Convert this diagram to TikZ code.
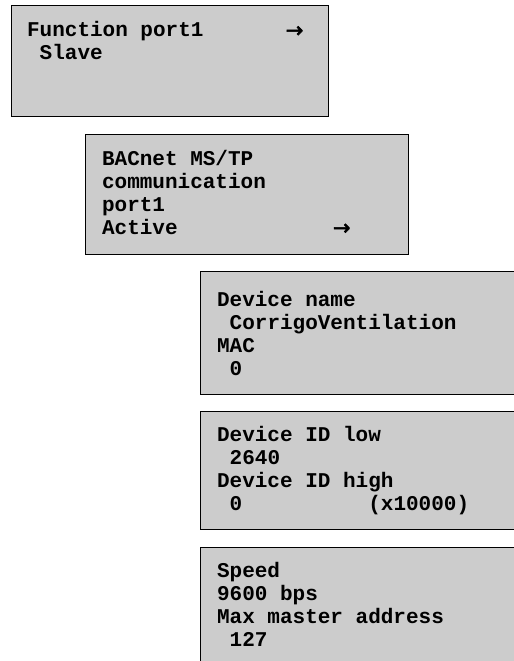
\documentclass[tikz,border=0pt]{standalone}
\usepackage{fontspec}
\setmonofont{Liberation Mono}
\newfontfamily\arrowfont[FakeBold=2.5]{DejaVu Sans}
\usetikzlibrary{positioning}
\definecolor{screen}{RGB}{204,204,204}
\tikzset{display/.style={fill=screen, draw=black, line width=0.5pt},
  lcdtext/.style={anchor=base west, inner sep=0pt, align=left,
    font=\ttfamily\bfseries\fontsize{10.5}{11.55}\selectfont},
  nextarrow/.style={inner sep=0pt, font=\arrowfont\fontsize{10.5}{10.5}\selectfont}}

\begin{document}
\begin{tikzpicture}[x=0.5pt, y=-0.5pt, line cap=round]
                \useasboundingbox (0,0) rectangle (514,661);
                \filldraw [display] (11.7,5) rectangle (328.3,116.7);
                \filldraw [display] (86,134.3) rectangle (408.3,254);
                \filldraw [display] (200.7,271) rectangle (530,394);
                \filldraw [display] (200.7,411) rectangle (530,529.7);
                \filldraw [display] (200.7,547) rectangle (530,680);

                % base anchor sits on the last line
                \node[lcdtext] (function) at (26.7,59.3) {Function port1\\~Slave};
                \node[nextarrow] (arrowfunction) at (294.5,31.7) {→};
                \node[lcdtext] (bacnet) at (101.7,234.3) {BACnet MS/TP\\communication\\port1\\Active};
                \node[nextarrow] (arrowbacnet) at (341.7,229.3) {→};
                \node[lcdtext] (device) at (216.7,375.5) {Device name\\~CorrigoVentilation\\MAC\\~0};
                \node[lcdtext] (deviceid) at (216.7,510.7) {Device ID low\\~2640\\Device ID high\\~0~~~~~~~~~~(x10000)};
                \node[lcdtext] (speed) at (216.7,646.7) {Speed\\9600 bps\\Max master address\\~127};
            \end{tikzpicture}
\end{document}
